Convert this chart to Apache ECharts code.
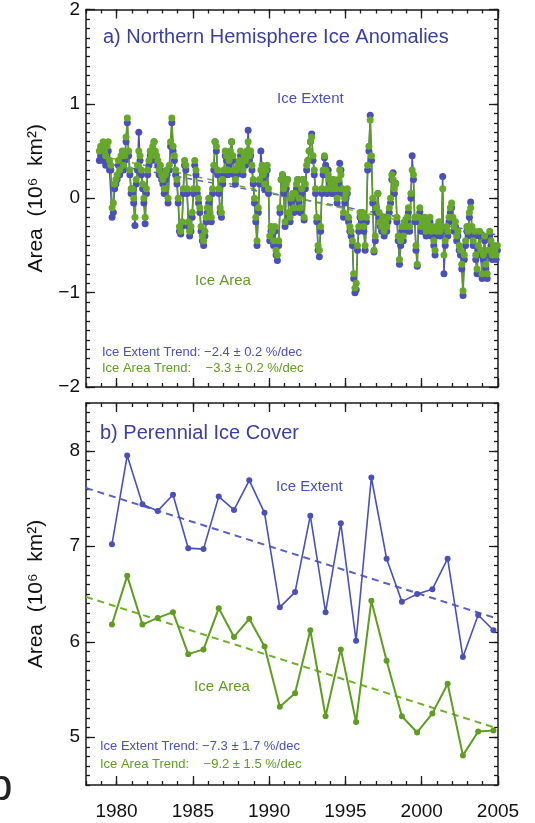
<!DOCTYPE html>
<html>
<head>
<meta charset="utf-8">
<script src="https://cdn.jsdelivr.net/npm/echarts@6/dist/echarts.min.js"></script>
<style>
  html, body { margin: 0; padding: 0; background: #fff; }
  #chart { width: 535px; height: 823px; }
</style>
</head>
<body>
<div id="chart"></div>
<script>
// ---- data: panel a, monthly anomalies (10^6 km^2), Nov 1978 .. Dec 2004
const anomStartYear = 1978
const anomStartMonth = 10 // November (0-based)
const extentAnom = [
  0.4, 0.45,
  0.45, 0.5, 0.4, 0.35, 0.45, 0.5, 0.3, 0.3, -0.2, -0.15, 0.1, 0.15,
  0.2, 0.35, 0.25, 0.4, 0.45, 0.3, 0.4, 0.6, 0.8, 0.45, 0.25, 0.05,
  0.05, -0.05, -0.29, 0.15, 0.3, 0.7, 0.4, 0.25, 0.1, -0.05, -0.27, 0.05,
  0.25, 0.35, 0.45, 0.4, 0.5, 0.6, 0.45, 0.4, 0.35, 0.25, 0.3, 0.2,
  0.15, 0.05, 0.2, 0.25, -0.05, 0.3, 0.55, 0.8, 0.5, 0.4, 0.25, 0.15,
  -0.05, -0.35, -0.38, -0.3, 0.05, 0.35, 0.3, 0.05, -0.3, -0.4, -0.35, -0.2,
  0.05, 0.35, 0.25, 0.05, -0.05, -0.15, -0.35, -0.45, -0.5, -0.4, -0.25, -0.15,
  -0.05, -0.2, -0.25, 0.05, 0.3, 0.6, 0.5, 0.25, 0.05, -0.15, -0.2, 0.15,
  0.25, 0.45, 0.4, 0.25, 0.35, 0.45, 0.6, 0.4, 0.25, 0.15, 0.25, 0.3,
  0.35, 0.45, 0.3, 0.25, 0.4, 0.35, 0.45, 0.72, 0.4, 0.45, 0.3, 0.15,
  -0.05, -0.25, -0.5, -0.15, 0.15, 0.5, 0.3, 0.2, 0.1, 0.25, 0.3, 0.05,
  -0.45, -0.35, -0.4, -0.5, -0.35, -0.6, -0.66, -0.5, -0.15, 0.2, 0.25, 0.05,
  -0.3, 0.1, 0.2, -0.2, -0.25, -0.05, 0.0, -0.15, 0.0, 0.1, 0.2, -0.05,
  -0.15, 0.05, 0.2, -0.23, 0.1, 0.3, 0.4, 0.5, 0.6, 0.68, 0.4, 0.25,
  0.05, -0.25, -0.55, -0.62, -0.35, 0.05, 0.25, 0.43, 0.35, 0.05, 0.3, 0.15,
  0.1, 0.05, 0.2, 0.1, 0.05, -0.05, 0.15, 0.37, 0.3, 0.05, -0.2, -0.05,
  0.0, 0.05, -0.25, -0.35, -0.4, -0.5, -0.85, -1.0, -0.97, -0.55, -0.35, -0.2,
  -0.25, -0.2, -0.35, -0.55, -0.25, 0.3, 0.5, 0.88, 0.4, -0.05, -0.57, -0.45,
  -0.15, 0.05, -0.2, -0.3, -0.35, -0.25, -0.4, -0.3, -0.35, -0.25, -0.15, -0.05,
  0.2, 0.27, 0.05, 0.16, -0.25, -0.45, -0.7, -0.5, -0.35, -0.45, -0.3, -0.35,
  -0.25, -0.15, -0.35, 0.0, 0.45, 0.2, -0.25, -0.55, -0.72, -0.25, -0.15, -0.35,
  -0.3, -0.35, -0.25, -0.4, -0.3, -0.35, -0.25, -0.4, -0.35, -0.5, -0.6, -0.4,
  -0.35, -0.3, -0.4, -0.35, 0.23, -0.8, -0.5, -0.35, -0.4, -0.25, -0.15, -0.1,
  -0.25, -0.35, -0.3, -0.45, -0.4, -0.55, -0.6, -0.75, -1.03, -0.65, -0.5, -0.35,
  -0.4, -0.2, -0.04, -0.35, -0.5, -0.4, -0.65, -0.8, -0.55, -0.4, -0.6, -0.85,
  -0.65, -0.45, -0.75, -0.85, -0.6, -0.4, -0.5, -0.65, -0.55, -0.6, -0.65, -0.55
]
const areaAnom = [
  0.5, 0.55,
  0.55, 0.6, 0.5, 0.45, 0.55, 0.6, 0.4, 0.35, -0.1, -0.05, 0.15, 0.2,
  0.25, 0.4, 0.3, 0.45, 0.5, 0.35, 0.45, 0.65, 0.85, 0.5, 0.3, 0.1,
  0.1, 0.0, -0.2, 0.2, 0.35, 0.5, 0.45, 0.3, 0.15, 0.0, -0.2, 0.1,
  0.3, 0.4, 0.5, 0.45, 0.55, 0.6, 0.5, 0.45, 0.4, 0.3, 0.35, 0.25,
  0.2, 0.1, 0.25, 0.3, 0.0, 0.35, 0.6, 0.85, 0.55, 0.45, 0.3, 0.2,
  0.0, -0.3, -0.35, -0.25, 0.1, 0.4, 0.35, 0.1, -0.25, -0.35, -0.3, -0.15,
  0.1, 0.4, 0.3, 0.1, 0.0, -0.1, -0.3, -0.4, -0.45, -0.35, -0.2, -0.1,
  0.0, -0.15, -0.2, 0.1, 0.35, 0.6, 0.55, 0.3, 0.1, -0.1, -0.15, 0.2,
  0.3, 0.5, 0.45, 0.3, 0.4, 0.5, 0.6, 0.45, 0.3, 0.2, 0.3, 0.35,
  0.4, 0.5, 0.35, 0.3, 0.45, 0.4, 0.5, 0.6, 0.45, 0.5, 0.35, 0.2,
  0.0, -0.2, -0.45, -0.1, 0.2, 0.3, 0.35, 0.25, 0.15, 0.3, 0.35, 0.1,
  -0.4, -0.3, -0.35, -0.45, -0.3, -0.55, -0.6, -0.45, -0.1, 0.2, 0.25, 0.1,
  -0.25, 0.15, 0.2, -0.15, -0.2, 0.0, 0.05, -0.1, 0.05, 0.15, 0.2, 0.0,
  -0.1, 0.1, 0.2, -0.2, 0.15, 0.35, 0.4, 0.5, 0.6, 0.65, 0.45, 0.3,
  0.1, -0.2, -0.5, -0.55, -0.3, 0.1, 0.3, 0.45, 0.3, 0.1, 0.25, 0.2,
  0.15, 0.1, 0.2, 0.15, 0.1, 0.0, 0.2, 0.3, 0.25, 0.1, -0.15, 0.0,
  0.05, 0.1, -0.2, -0.3, -0.35, -0.45, -0.8, -0.95, -0.9, -0.5, -0.3, -0.15,
  -0.2, -0.15, -0.3, -0.5, -0.2, 0.35, 0.55, 0.83, 0.45, 0.0, -0.55, -0.4,
  -0.1, 0.05, -0.15, -0.25, -0.3, -0.2, -0.35, -0.25, -0.3, -0.2, -0.1, 0.0,
  0.25, 0.2, 0.1, 0.15, -0.2, -0.4, -0.65, -0.45, -0.3, -0.4, -0.25, -0.3,
  -0.2, -0.1, -0.3, 0.05, 0.3, 0.25, -0.2, -0.5, -0.7, -0.2, -0.1, -0.3,
  -0.25, -0.3, -0.2, -0.35, -0.25, -0.3, -0.2, -0.35, -0.3, -0.45, -0.55, -0.35,
  -0.3, -0.25, -0.35, -0.3, 0.1, -0.6, -0.45, -0.3, -0.35, -0.2, -0.1, -0.05,
  -0.2, -0.3, -0.25, -0.4, -0.35, -0.5, -0.55, -0.7, -0.98, -0.6, -0.45, -0.3,
  -0.35, -0.15, -0.1, -0.3, -0.45, -0.35, -0.6, -0.75, -0.5, -0.35, -0.55, -0.8,
  -0.6, -0.4, -0.7, -0.8, -0.55, -0.35, -0.45, -0.6, -0.5, -0.55, -0.6, -0.5
]
const extentAnomTrend = [[1978.9, 0.38], [2005, -0.39]]
const areaAnomTrend = [[1978.9, 0.45], [2005, -0.46]]

// ---- data: panel b, perennial ice (10^6 km^2), 1979 .. 2004
const years = [1979, 1980, 1981, 1982, 1983, 1984, 1985, 1986, 1987, 1988, 1989, 1990, 1991,
  1992, 1993, 1994, 1995, 1996, 1997, 1998, 1999, 2000, 2001, 2002, 2003, 2004]
const perennialExtent = [7.02, 7.95, 7.44, 7.37, 7.54, 6.98, 6.97, 7.52, 7.38, 7.69, 7.35, 6.36, 6.52,
  7.32, 6.31, 7.24, 6.01, 7.72, 6.87, 6.42, 6.5, 6.55, 6.87, 5.84, 6.28, 6.12]
const perennialArea = [6.18, 6.69, 6.18, 6.25, 6.31, 5.87, 5.92, 6.35, 6.05, 6.24, 5.95, 5.32, 5.46,
  6.12, 5.22, 5.92, 5.16, 6.43, 5.8, 5.22, 5.05, 5.25, 5.56, 4.81, 5.06, 5.07]
const extentTrend = [[1978, 7.61], [2005, 6.24]]
const areaTrend = [[1978, 6.47], [2005, 5.09]]

const xTickLabels = [1980, 1985, 1990, 1995, 2000, 2005]
const yTicksA = [-2, -1, 0, 1, 2]
const yTicksB = [5, 6, 7, 8]

// colours
const BLUE = '#4a50b8'
const GREEN = '#5f9c20'
const TITLE_BLUE = '#3a3f9e'
const FONT = '"Liberation Sans", Arial, sans-serif'

const monthX = (i) => anomStartYear + (anomStartMonth + i + 0.5) / 12
const extentAnomPts = extentAnom.map((v, i) => [monthX(i), v])
const areaAnomPts = areaAnom.map((v, i) => [monthX(i), v])
const extentPts = years.map((y, i) => [y + 0.7, perennialExtent[i]])
const areaPts = years.map((y, i) => [y + 0.7, perennialArea[i]])

const axisLine = { show: true, onZero: false, lineStyle: { color: '#1a1a1a', width: 1.5 } }
const noLine = { show: false, onZero: false }
const tickStyle = { color: '#1a1a1a', width: 1.3 }
const minus = (v) => (v < 0 ? '\u2212' + Math.abs(v) : String(v))

function xAxes(grid, showLabels) {
  const base = { type: 'value', gridIndex: grid, min: 1978, max: 2005, splitLine: { show: false } }
  return [
    Object.assign({}, base, {
      position: 'bottom', interval: 1, axisLine,
      axisTick: { inside: true, length: 4, lineStyle: tickStyle },
      axisLabel: showLabels
        ? { show: true, customValues: xTickLabels, margin: 17, fontSize: 19, color: '#111', fontFamily: FONT,
            formatter: (v) => String(v) }
        : { show: false }
    }),
    Object.assign({}, base, {
      position: 'bottom', axisLine: noLine,
      axisTick: { inside: true, length: 9, customValues: xTickLabels, lineStyle: tickStyle },
      axisLabel: { show: false }
    }),
    Object.assign({}, base, {
      position: 'top', interval: 1, axisLine,
      axisTick: { inside: true, length: 4, lineStyle: tickStyle },
      axisLabel: { show: false }
    }),
    Object.assign({}, base, {
      position: 'top', axisLine: noLine,
      axisTick: { inside: true, length: 9, customValues: xTickLabels, lineStyle: tickStyle },
      axisLabel: { show: false }
    })
  ]
}

function yAxes(grid, min, max, majors) {
  const base = { type: 'value', gridIndex: grid, min, max, splitLine: { show: false } }
  return [
    Object.assign({}, base, {
      position: 'left', interval: 0.1, axisLine,
      axisTick: { inside: true, length: 4, lineStyle: tickStyle },
      axisLabel: { show: true, customValues: majors, margin: 6, fontSize: 19, color: '#111', fontFamily: FONT, formatter: minus },
      name: 'Area  (10\u2076  km\u00b2)',
      nameLocation: 'middle', nameRotate: 90, nameGap: 39,
      nameTextStyle: { fontSize: 21, color: '#111', fontFamily: FONT }
    }),
    Object.assign({}, base, {
      position: 'left', axisLine: noLine,
      axisTick: { inside: true, length: 9, customValues: majors, lineStyle: tickStyle },
      axisLabel: { show: false }
    }),
    Object.assign({}, base, {
      position: 'right', interval: 0.1, axisLine,
      axisTick: { inside: true, length: 4, lineStyle: tickStyle },
      axisLabel: { show: false }
    }),
    Object.assign({}, base, {
      position: 'right', axisLine: noLine,
      axisTick: { inside: true, length: 9, customValues: majors, lineStyle: tickStyle },
      axisLabel: { show: false }
    })
  ]
}

function txt(x, y, text, size, color) {
  return {
    type: 'text', left: x, top: y,
    style: { text, fontSize: size, fill: color, fontFamily: FONT }
  }
}

const myChart = echarts.init(document.getElementById('chart'))

myChart.setOption({
  animation: false,
  backgroundColor: '#fff',
  grid: [
    { left: 86, top: 9, width: 412, height: 378 },
    { left: 86, top: 403, width: 412, height: 382 }
  ],
  xAxis: [...xAxes(0, false), ...xAxes(1, true)],
  yAxis: [...yAxes(0, -2, 2, yTicksA), ...yAxes(1, 4.5, 8.5, yTicksB)],
  graphic: [
    txt(103, 27, 'a) Northern Hemisphere Ice Anomalies', 20, TITLE_BLUE),
    txt(277, 91, 'Ice Extent', 15, BLUE),
    txt(195, 273, 'Ice Area', 15, GREEN),
    txt(102, 346, 'Ice Extent Trend: \u22122.4 \u00b1 0.2 %/dec', 13, BLUE),
    txt(102, 362, 'Ice Area Trend:    \u22123.3 \u00b1 0.2 %/dec', 13, GREEN),
    txt(100, 423, 'b) Perennial Ice Cover', 20, TITLE_BLUE),
    txt(276, 479, 'Ice Extent', 15, BLUE),
    txt(194, 679, 'Ice Area', 15, GREEN),
    txt(100, 740, 'Ice Extent Trend: \u22127.3 \u00b1 1.7 %/dec', 13, BLUE),
    txt(100, 758, 'Ice Area Trend:    \u22129.2 \u00b1 1.5 %/dec', 13, GREEN),
    txt(-12, 766, 'b', 44, '#222')
  ],
  series: [
    {
      name: 'Extent Trend a', type: 'line', xAxisIndex: 0, yAxisIndex: 0,
      data: extentAnomTrend, symbol: 'none',
      lineStyle: { color: '#5a60c4', width: 1.5, type: [6, 5] }
    },
    {
      name: 'Area Trend a', type: 'line', xAxisIndex: 0, yAxisIndex: 0,
      data: areaAnomTrend, symbol: 'none',
      lineStyle: { color: '#6fb02a', width: 1.5, type: [6, 5] }
    },
    {
      name: 'Ice Extent', type: 'line', xAxisIndex: 0, yAxisIndex: 0,
      data: extentAnomPts, symbol: 'circle', symbolSize: 7,
      lineStyle: { color: BLUE, width: 1.5 }, itemStyle: { color: BLUE }
    },
    {
      name: 'Ice Area', type: 'line', xAxisIndex: 0, yAxisIndex: 0,
      data: areaAnomPts, symbol: 'circle', symbolSize: 7,
      lineStyle: { color: GREEN, width: 1.5 }, itemStyle: { color: '#66a82a' }
    },
    {
      name: 'Extent Trend', type: 'line', xAxisIndex: 4, yAxisIndex: 4,
      data: extentTrend, symbol: 'none',
      lineStyle: { color: '#5a60c4', width: 2, type: [7, 5] }
    },
    {
      name: 'Area Trend', type: 'line', xAxisIndex: 4, yAxisIndex: 4,
      data: areaTrend, symbol: 'none',
      lineStyle: { color: '#6fb02a', width: 2, type: [7, 5] }
    },
    {
      name: 'Perennial Extent', type: 'line', xAxisIndex: 4, yAxisIndex: 4,
      data: extentPts, symbol: 'circle', symbolSize: 6,
      lineStyle: { color: BLUE, width: 1.6 }, itemStyle: { color: BLUE }
    },
    {
      name: 'Perennial Area', type: 'line', xAxisIndex: 4, yAxisIndex: 4,
      data: areaPts, symbol: 'circle', symbolSize: 6,
      lineStyle: { color: GREEN, width: 2 }, itemStyle: { color: GREEN }
    }
  ]
})
</script>
</body>
</html>
